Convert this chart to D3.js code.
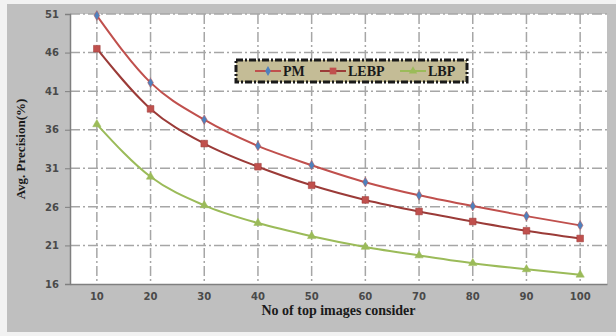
<!DOCTYPE html>
<html lang="en">
<head>
<meta charset="UTF-8">
<title>Avg. Precision</title>
<script src="https://cdn.jsdelivr.net/npm/d3@7"></script>
<style>
    body { margin: 0; background: #f2f2f2; }
</style>
</head>
<body>
<svg id="chart" width="616" height="336"></svg>
<script>
    // values
    let topImages = [10, 20, 30, 40, 50, 60, 70, 80, 90, 100]
    let pm   = [50.8, 42.1, 37.3, 33.9, 31.4, 29.2, 27.5, 26.1, 24.8, 23.6]
    let lebp = [46.5, 38.7, 34.2, 31.2, 28.8, 26.9, 25.4, 24.1, 22.9, 21.9]
    let lbp  = [36.7, 29.9, 26.2, 23.9, 22.2, 20.8, 19.7, 18.7, 17.9, 17.2]
    let yTicks = [16, 21, 26, 31, 36, 41, 46, 51]

    let series = [
        {name: 'PM',   values: pm,   line: '#c0504d', mark: '#4f81bd', shape: d3.symbolDiamond, size: 28},
        {name: 'LEBP', values: lebp, line: '#9b3b38', mark: '#c0504d', shape: d3.symbolSquare, size: 45},
        {name: 'LBP',  values: lbp,  line: '#9bbb59', mark: '#9bbb59', shape: d3.symbolTriangle, size: 30}
    ]

    let svg = d3.select('#chart')
    let pLeft = 70, pRight = 607, pTop = 14, pBottom = 284

    // grey backdrop
    svg.append('rect')
        .attr('x', 7).attr('y', 4).attr('width', 609).attr('height', 328)
        .attr('fill', '#bfbfbf')

    svg.append('rect')
        .attr('x', pLeft).attr('y', pTop).attr('width', pRight - pLeft).attr('height', pBottom - pTop)
        .attr('fill', '#ffffff')

    let x = d3.scaleBand().domain(topImages).range([pLeft, pRight])
    let y = d3.scaleLinear().domain([16, 51]).range([pBottom, pTop])
    let cx = v => x(v) + x.bandwidth() / 2

    // grid
    svg.append('g').selectAll('line').data(yTicks.slice(1)).enter()
        .append('line')
        .attr('x1', pLeft).attr('x2', pRight)
        .attr('y1', d => y(d)).attr('y2', d => y(d))
        .attr('stroke', '#a6a6a6').attr('stroke-width', 1.5)
        .attr('stroke-dasharray', '10,3,2,3')
    svg.append('g').selectAll('line').data(topImages).enter()
        .append('line')
        .attr('x1', d => cx(d)).attr('x2', d => cx(d))
        .attr('y1', pTop).attr('y2', pBottom)
        .attr('stroke', '#a6a6a6').attr('stroke-width', 1.5)
        .attr('stroke-dasharray', '10,3,2,3')

    // axes
    let yaxis = d3.axisLeft(y).tickValues(yTicks).tickSize(5).tickPadding(6)
    let ya = svg.append('g').attr('transform', 'translate(' + pLeft + ',0)').call(yaxis)
    let xaxis = d3.axisBottom(x).tickSize(0).tickPadding(9)
    let xa = svg.append('g').attr('transform', 'translate(0,' + pBottom + ')').call(xaxis)
    ya.select('.domain').attr('stroke', '#7f7f7f').attr('stroke-width', 1.5)
    xa.select('.domain').attr('stroke', '#7f7f7f').attr('stroke-width', 1.5)
    ya.selectAll('.tick line').attr('stroke', '#7f7f7f')
    svg.selectAll('.tick text')
        .attr('font-family', 'DejaVu Sans').attr('font-size', 10)
        .attr('font-weight', 'bold').attr('fill', '#4a4a4a')

    // lines and markers
    let line = d3.line()
        .x((d, i) => cx(topImages[i]))
        .y(d => y(d))
        .curve(d3.curveMonotoneX)

    series.forEach(s => {
        svg.append('path')
            .attr('d', line(s.values))
            .attr('fill', 'none')
            .attr('stroke', s.line).attr('stroke-width', 2)
        svg.append('g').selectAll('path').data(s.values).enter()
            .append('path')
            .attr('d', d3.symbol().type(s.shape).size(s.size))
            .attr('transform', (d, i) => 'translate(' + cx(topImages[i]) + ',' + y(d) + ')')
            .attr('fill', s.mark)
            .attr('stroke', s.line).attr('stroke-width', 0.5)
    })

    // titles
    svg.append('text')
        .attr('x', (pLeft + pRight) / 2).attr('y', 315)
        .attr('text-anchor', 'middle')
        .attr('font-family', 'Liberation Serif').attr('font-weight', 'bold').attr('font-size', 14)
        .attr('fill', '#1a1a1a')
        .text('No of top images consider')
    svg.append('text')
        .attr('transform', 'translate(25,' + (pTop + pBottom) / 2 + ') rotate(-90)')
        .attr('text-anchor', 'middle')
        .attr('font-family', 'Liberation Serif').attr('font-weight', 'bold').attr('font-size', 13)
        .attr('fill', '#1a1a1a')
        .text('Avg. Precision(%)')

    // legend
    let lg = svg.append('g')
    lg.append('rect')
        .attr('x', 236).attr('y', 60).attr('width', 231).attr('height', 22)
        .attr('fill', '#c4bc96')
        .attr('stroke', '#1a1a1a').attr('stroke-width', 3)
        .attr('stroke-dasharray', '7,2,2,2')
    let lx = [255, 320, 400]
    series.forEach((s, i) => {
        lg.append('line')
            .attr('x1', lx[i]).attr('x2', lx[i] + 26).attr('y1', 71).attr('y2', 71)
            .attr('stroke', s.line).attr('stroke-width', 2)
        lg.append('path')
            .attr('d', d3.symbol().type(s.shape).size(s.size))
            .attr('transform', 'translate(' + (lx[i] + 13) + ',71)')
            .attr('fill', s.mark)
        lg.append('text')
            .attr('x', lx[i] + 28).attr('y', 76)
            .attr('font-family', 'Liberation Serif').attr('font-weight', 'bold').attr('font-size', 14)
            .attr('fill', '#1a1a1a')
            .text(s.name)
    })
</script>
</body>
</html>
